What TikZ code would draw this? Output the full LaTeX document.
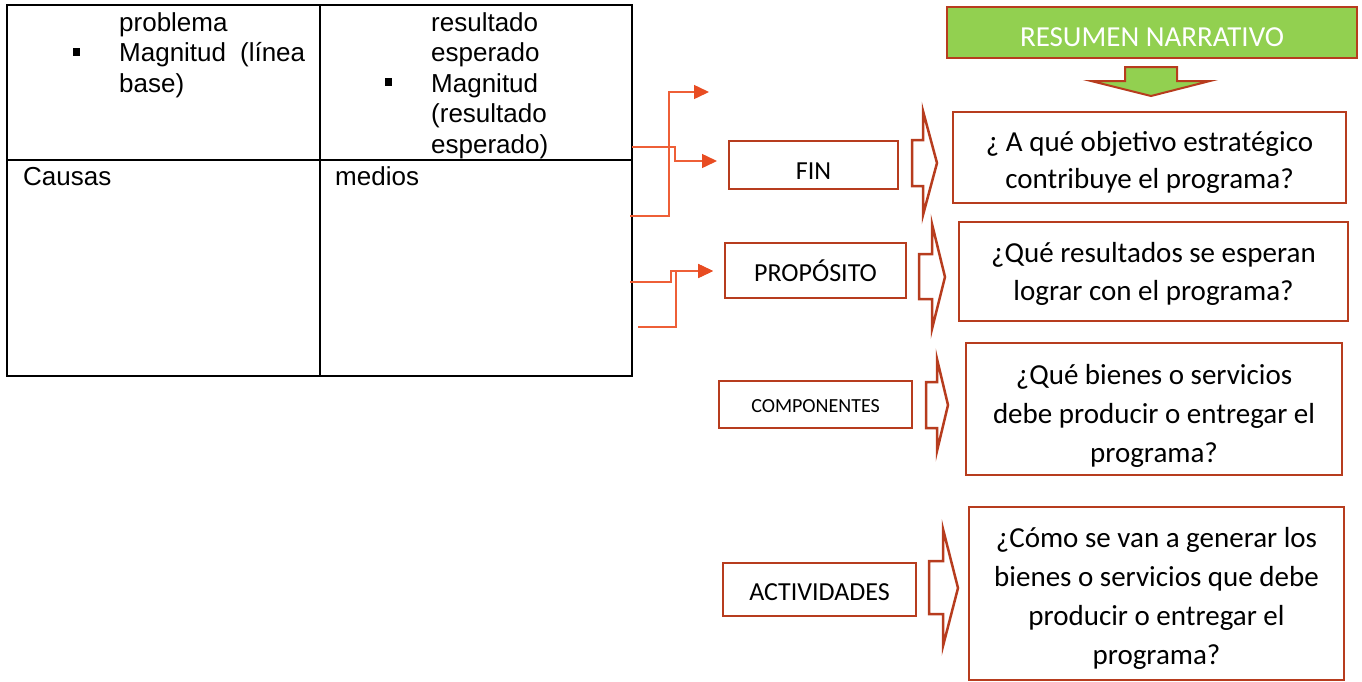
\documentclass[tikz,border=0pt]{standalone}
\usepackage{fontspec}
\setmainfont{Carlito}
\newfontfamily\arialf{Liberation Sans}
\usetikzlibrary{arrows.meta}
\definecolor{boxred}{RGB}{183,60,30}
\definecolor{lineor}{RGB}{238,95,55}
\definecolor{tipor}{RGB}{232,76,34}
\definecolor{hdrgreen}{RGB}{146,208,80}
\tikzset{
  rbox/.style={draw=boxred, line width=2.5pt, inner sep=0pt, fill=white},
  lbl/.style={rbox, font=\fontsize{26}{30}\selectfont, text depth=0pt},
  qbox/.style={rbox, align=center, font=\fontsize{29}{38}\selectfont},
  conn/.style={draw=lineor, line width=1.5pt, -{Triangle[length=15pt,width=14pt,color=tipor]}},
  blockarrow/.style={draw=boxred, line width=2.5pt, fill=white, line join=miter},
  tabtxt/.style={font=\arialf\fontsize{26}{30.5}\selectfont, inner sep=0pt, align=left},
  bulletsq/.style={fill=black, inner sep=0pt, minimum width=7pt, minimum height=8pt},
}
\begin{document}
\begin{tikzpicture}[x=1pt,y=-1pt]
\useasboundingbox (0,0) rectangle (1362,681);
% table
\draw[line width=2pt] (7,5) rectangle (632,376);
\draw[line width=1.5pt] (320,5) -- (320,376);
\draw[line width=1.5pt] (7,160) -- (632,160);
\node[bulletsq] (b1) at (76,52) {};
\node[bulletsq] (b2) at (388,82) {};
\node[tabtxt, anchor=north west] (c1) at (119,12.4) {problema\\\makebox[186pt][s]{Magnitud (línea}\\base)};
\node[tabtxt, anchor=north west] (c2) at (431,12.4) {resultado\\esperado\\Magnitud\\(resultado\\esperado)};
\node[tabtxt, anchor=base west] (c3) at (23,185) {Causas};
\node[tabtxt, anchor=base west] (c4) at (335,185) {medios};
% header
\node[rbox, fill=hdrgreen, minimum width=410pt, minimum height=51pt, text=white,
      font=\fontsize{29}{35}\selectfont, text height=27pt, text depth=0pt] (hdr) at (1152,32.5) {RESUMEN NARRATIVO};
\draw[draw=boxred, line width=2pt, fill=hdrgreen, line join=miter]
  (1125,67) -- (1177,67) -- (1177,81) -- (1210,81) -- (1151,96) -- (1091,81) -- (1125,81) -- cycle;
% left labels
\node[lbl, minimum width=169pt, minimum height=48pt, text height=28pt] (fin) at (813.5,165) {FIN};
\node[lbl, minimum width=181pt, minimum height=55pt, text height=21pt] (prop) at (815.5,270.5) {PROPÓSITO};
\node[lbl, minimum width=193pt, minimum height=47pt, text height=15pt, font=\fontsize{20}{24}\selectfont] (comp) at (815.5,404.5) {COMPONENTES};
\node[lbl, minimum width=193pt, minimum height=53pt, text height=21pt] (act) at (819.5,589.5) {ACTIVIDADES};
% block arrows
\draw[blockarrow] (912,140) -- (923,140) -- (923,111) -- (937,163) -- (923,215) -- (923,186) -- (912,186) -- cycle;
\draw[blockarrow] (919,254) -- (932,254) -- (932,224) -- (945,277) -- (932,329) -- (932,299) -- (919,299) -- cycle;
\draw[blockarrow] (926,382) -- (937,382) -- (937,359) -- (948,405) -- (937,451) -- (937,428) -- (926,428) -- cycle;
\draw[blockarrow] (929,561) -- (943,561) -- (943,529) -- (958,588) -- (943,646) -- (943,614) -- (929,614) -- cycle;
% question boxes
\node[qbox, minimum width=393pt, minimum height=91pt, font=\fontsize{29}{37}\selectfont] (q1) at (1149.5,157.5) {\rule{0pt}{29pt}¿ A qué objetivo estratégico\\contribuye el programa?};
\node[qbox, minimum width=389pt, minimum height=99pt] (q2) at (1153.5,271.5) {\rule{0pt}{25pt}¿Qué resultados se esperan\\lograr con el programa?};
\node[qbox, minimum width=376pt, minimum height=132pt, font=\fontsize{29}{39}\selectfont] (q3) at (1154,409) {\rule{0pt}{33pt}¿Qué bienes o servicios\\debe producir o entregar el\\programa?};
\node[qbox, minimum width=375pt, minimum height=173pt, font=\fontsize{29}{39}\selectfont] (q4) at (1156.5,593.5) {\rule{0pt}{29pt}¿Cómo se van a generar los\\bienes o servicios que debe\\producir o entregar el\\programa?};
% connectors
\coordinate (s1) at (630,216);
\coordinate (s2) at (632,147);
\coordinate (s3) at (630,282);
\coordinate (s4) at (638,327);
\coordinate (e1) at (709,92);
\coordinate (e2) at (717,161);
\coordinate (e3) at (713,271);
\draw[conn] (s1) -- ++(39,0) |- (e1);
\draw[conn] (s2) -- ++(43,0) |- (e2);
\draw[conn] (s3) -- ++(41,0) |- (e3);
\draw[conn] (s4) -- ++(38,0) |- (e3);
\end{tikzpicture}
\end{document}
